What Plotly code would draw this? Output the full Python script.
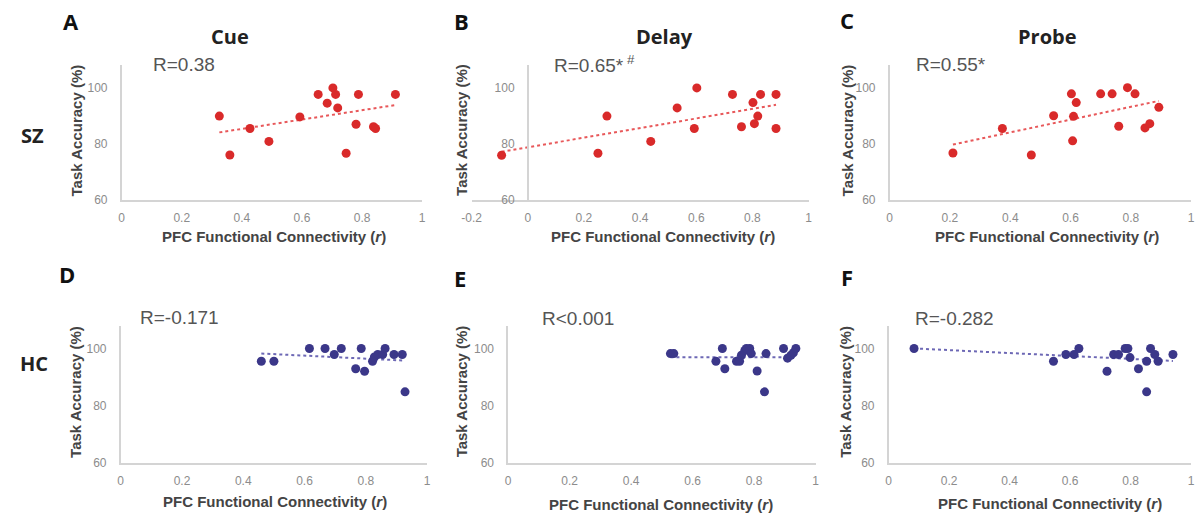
import numpy as np
import plotly.graph_objects as go

W, H = 1203, 523

# ---------------- data ----------------
cue_sz_x = [0.325, 0.36, 0.427, 0.49, 0.593, 0.654, 0.684, 0.703, 0.712, 0.719, 0.747, 0.78, 0.788, 0.838, 0.845, 0.911]
cue_sz_y = [89.9, 76.1, 85.5, 80.9, 89.6, 97.6, 94.5, 99.9, 97.6, 92.8, 76.7, 87.0, 97.6, 86.1, 85.5, 97.6]

delay_sz_x = [-0.093, 0.25, 0.282, 0.438, 0.532, 0.593, 0.602, 0.729, 0.761, 0.802, 0.807, 0.819, 0.829, 0.884, 0.884]
delay_sz_y = [76.0, 76.7, 89.9, 80.9, 92.8, 85.5, 99.9, 97.6, 86.1, 94.7, 87.2, 89.9, 97.6, 97.6, 85.5]

probe_sz_x = [0.21, 0.374, 0.47, 0.544, 0.603, 0.607, 0.61, 0.619, 0.70, 0.738, 0.76, 0.789, 0.814, 0.847, 0.863, 0.893]
probe_sz_y = [76.8, 85.5, 76.1, 90.0, 97.8, 81.1, 89.8, 94.7, 97.8, 97.8, 86.3, 100.0, 97.8, 85.7, 87.2, 93.0]

cue_hc_x = [0.459, 0.50, 0.616, 0.667, 0.697, 0.72, 0.767, 0.785, 0.796, 0.822, 0.828, 0.839, 0.855, 0.863, 0.892, 0.919, 0.928]
cue_hc_y = [95.5, 95.5, 100, 100, 97.9, 100, 92.9, 100, 92.0, 95.5, 97.0, 97.9, 97.9, 100, 97.9, 97.9, 84.8]

delay_hc_x = [0.528, 0.539, 0.676, 0.697, 0.705, 0.743, 0.753, 0.759, 0.77, 0.775, 0.786, 0.791, 0.81, 0.834, 0.839, 0.896, 0.909, 0.92, 0.928, 0.936]
delay_hc_y = [98.2, 98.2, 95.5, 100, 92.9, 95.5, 95.5, 97.6, 99.3, 100, 100, 98.2, 92.1, 84.8, 98.2, 100, 96.6, 97.6, 98.5, 100]

probe_hc_x = [0.084, 0.545, 0.586, 0.613, 0.629, 0.722, 0.744, 0.76, 0.782, 0.791, 0.798, 0.826, 0.853, 0.853, 0.866, 0.88, 0.891, 0.94]
probe_hc_y = [100, 95.5, 97.9, 97.9, 100, 92.0, 97.9, 97.9, 100, 100, 96.8, 92.9, 95.5, 84.8, 100, 97.9, 95.5, 97.9]

panel_letters = ["A", "B", "C", "D", "E", "F"]
phase_titles = ["Cue", "Delay", "Probe"]
group_labels = ["SZ", "HC"]
r_labels = ["R=0.38", "R=0.65*<sup> #</sup>", "R=0.55*", "R=-0.171", "R<0.001", "R=-0.282"]
x_title = "PFC Functional Connectivity (<i>r</i>)"
y_title = "Task Accuracy (%)"
x_ticks_std = [0, 0.2, 0.4, 0.6, 0.8, 1]
x_ticktext_std = ["0", "0.2", "0.4", "0.6", "0.8", "1"]
x_ticks_b = [-0.2, 0, 0.2, 0.4, 0.6, 0.8, 1]
x_ticktext_b = ["-0.2", "0", "0.2", "0.4", "0.6", "0.8", "1"]
y_ticks = [60, 80, 100]

# --------------- layout geometry (pixels) ---------------
def px(x):
    return x / W

def py(y):
    return 1 - y / H

panels = [
    dict(x=cue_sz_x, y=cue_sz_y, col="#d92a2a", line="#e8585a", xr=[0, 1], xd=(113, 417), yd=(203, 66), letter=(62, 21)),
    dict(x=delay_sz_x, y=delay_sz_y, col="#d92a2a", line="#e8585a", xr=[-0.2, 1], xd=(467, 808), yd=(203, 66), letter=(457, 21)),
    dict(x=probe_sz_x, y=probe_sz_y, col="#d92a2a", line="#e8585a", xr=[0, 1], xd=(890, 1195), yd=(203, 66), letter=(847, 20)),
    dict(x=cue_hc_x, y=cue_hc_y, col="#3b3789", line="#6d68b5", xr=[0, 1], xd=(112, 422), yd=(469, 330), letter=(58, 278)),
    dict(x=delay_hc_x, y=delay_hc_y, col="#3b3789", line="#6d68b5", xr=[0, 1], xd=(504, 815), yd=(469, 330), letter=(455, 282)),
    dict(x=probe_hc_x, y=probe_hc_y, col="#3b3789", line="#6d68b5", xr=[0, 1], xd=(889, 1195), yd=(469, 330), letter=(847, 281)),
]
r_pos = [(176, 65), (591, 65), (952, 65), (171, 322), (575, 323), (956, 323)]
xt_pos = [(267, 240), (661, 240), (1049, 240), (268, 508), (659, 511), (1052, 510)]
yt_pos = [(67, 132), (457, 132), (847, 132), (66, 397), (457, 397), (846, 397)]
title_pos = [(223, 37), (662, 37), (1050, 37)]
group_pos = [(23, 137), (24, 368)]

FONT = "Arial, Liberation Sans, sans-serif"
BFONT = "Open Sans, Arial, sans-serif"

fig = go.Figure()
layout = dict(
    width=W, height=H, margin=dict(l=0, r=0, t=0, b=0),
    paper_bgcolor="white", plot_bgcolor="white", showlegend=False,
    annotations=[],
)

for i, p in enumerate(panels):
    n = i + 1
    xa = "x" if n == 1 else f"x{n}"
    ya = "y" if n == 1 else f"y{n}"
    xs = np.array(p["x"])
    ys = np.array(p["y"])
    slope, icpt = np.polyfit(xs, ys, 1)
    lx = np.array([xs.min(), xs.max()])
    fig.add_trace(go.Scatter(x=lx, y=slope * lx + icpt, mode="lines", xaxis=xa, yaxis=ya,
                             line=dict(color=p["line"], width=2, dash="dot"), hoverinfo="skip"))
    fig.add_trace(go.Scatter(x=xs, y=ys, mode="markers", xaxis=xa, yaxis=ya,
                             marker=dict(color=p["col"], size=9, line=dict(width=0))))
    xkey = "xaxis" if n == 1 else f"xaxis{n}"
    ykey = "yaxis" if n == 1 else f"yaxis{n}"
    xd0, xd1 = p["xd"]
    yb, yt = p["yd"]
    is_b = (i == 1)
    layout[xkey] = dict(
        domain=[px(xd0), px(xd1)], range=p["xr"], anchor=ya,
        showgrid=False, zeroline=False, showline=True, linecolor="#d4d4d4", linewidth=1.5,
        tickvals=x_ticks_b if is_b else x_ticks_std,
        ticktext=x_ticktext_b if is_b else x_ticktext_std,
        ticks="", ticklabelstandoff=6,
        tickfont=dict(family=FONT, size=12, color="#8c8c8c"),
    )
    yax = dict(
        domain=[py(yb), py(yt)], range=[60, 108],
        showgrid=False, zeroline=False, showline=True, linecolor="#d4d4d4", linewidth=1.5,
        tickvals=y_ticks, ticks="", ticklabelstandoff=10,
        tickfont=dict(family=FONT, size=12, color="#8c8c8c"),
    )
    if is_b:
        # y axis crosses at x = 0
        frac = (0 - p["xr"][0]) / (p["xr"][1] - p["xr"][0])
        yax.update(anchor="free", position=px(xd0 + frac * (xd1 - xd0)))
    else:
        yax.update(anchor=xa)
    layout[ykey] = yax

    ann = layout["annotations"]
    lx_, ly_ = p["letter"]
    ann.append(dict(text=f"<b>{panel_letters[i]}</b>", x=px(lx_), y=py(ly_), xref="paper", yref="paper",
                    showarrow=False, xanchor="center", yanchor="middle",
                    font=dict(family=BFONT, size=22, color="#111111")))
    rx, ry = r_pos[i]
    ann.append(dict(text=r_labels[i], x=px(rx), y=py(ry), xref="paper", yref="paper",
                    showarrow=False, xanchor="center", yanchor="middle",
                    font=dict(family=FONT, size=19, color="#555555")))
    tx, ty = xt_pos[i]
    ann.append(dict(text=f"<b>{x_title}</b>", x=px(tx), y=py(ty), xref="paper", yref="paper",
                    showarrow=False, xanchor="center", yanchor="middle",
                    font=dict(family=FONT, size=15, color="#444444")))
    yx, yy = yt_pos[i]
    ann.append(dict(text=f"<b>{y_title}</b>", x=px(yx), y=py(yy), xref="paper", yref="paper",
                    showarrow=False, xanchor="center", yanchor="middle", textangle=-90,
                    font=dict(family=FONT, size=15, color="#444444")))

for j, t in enumerate(phase_titles):
    tx, ty = title_pos[j]
    layout["annotations"].append(dict(text=f"<b>{t}</b>", x=px(tx), y=py(ty), xref="paper", yref="paper",
                                      showarrow=False, xanchor="center", yanchor="middle",
                                      font=dict(family=BFONT, size=20, color="#222222")))
for j, g in enumerate(group_labels):
    gx, gy = group_pos[j]
    layout["annotations"].append(dict(text=f"<b>{g}</b>", x=px(gx), y=py(gy), xref="paper", yref="paper",
                                      showarrow=False, xanchor="center", yanchor="middle",
                                      font=dict(family=BFONT, size=20, color="#222222")))

fig.update_layout(**layout)
fig.write_html("out.html", config={"displayModeBar": False},
               post_script="document.body.style.margin='0px';")
